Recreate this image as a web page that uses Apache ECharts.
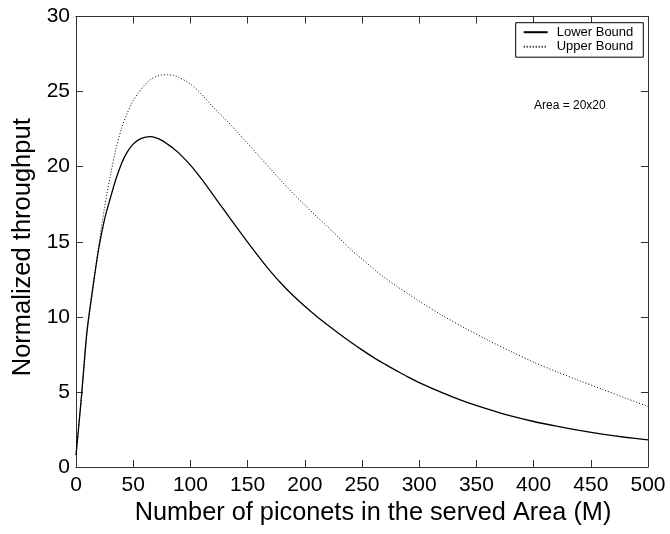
<!DOCTYPE html>
<html>
<head>
<meta charset="utf-8">
<script src="https://cdn.jsdelivr.net/npm/echarts@6/dist/echarts.min.js"></script>
<style>
    html, body {margin: 0; padding: 0; background: #fff;}
    #chart {width: 670px; height: 534px;}
</style>
</head>
<body>
<div id="chart"></div>
<script>
// x = number of piconets (M)
var aXVals = [0, 2, 5, 8, 10, 15, 20, 25, 30, 35, 40, 45, 50, 55, 60, 65, 70, 75, 80, 85, 90,
    100, 110, 120, 130, 140, 150, 160, 170, 180, 190, 200, 210, 220, 230, 240, 250, 260, 270, 280, 290,
    300, 320, 340, 360, 380, 400, 420, 440, 460, 480, 500];
var aLower = [0.8, 2.4, 4.9, 7.7, 9.3, 12.1, 14.6, 16.5, 17.9, 19.2, 20.25, 21.0, 21.5, 21.8, 21.95, 22.0, 21.92, 21.75, 21.5, 21.22, 20.9,
    20.1, 19.15, 18.1, 17.05, 16.0, 14.98, 13.98, 13.03, 12.17, 11.4, 10.7, 10.05, 9.45, 8.88, 8.33, 7.8, 7.3, 6.85, 6.42, 6.0,
    5.62, 4.95, 4.35, 3.85, 3.4, 3.03, 2.72, 2.44, 2.19, 1.98, 1.8];
var aUpper = [0.8, 2.4, 4.8, 7.6, 9.2, 12.0, 14.8, 17.3, 19.4, 21.2, 22.6, 23.6, 24.4, 24.95, 25.45, 25.8, 26.0, 26.1, 26.12, 26.08, 25.95,
    25.5, 24.8, 23.95, 23.2, 22.4, 21.55, 20.7, 19.85, 19.0, 18.2, 17.45, 16.7, 16.0, 15.25, 14.5, 13.85, 13.2, 12.6, 12.05, 11.55,
    11.05, 10.1, 9.25, 8.45, 7.7, 6.98, 6.35, 5.75, 5.18, 4.6, 4.03];
var aXTicks = [0, 50, 100, 150, 200, 250, 300, 350, 400, 450, 500];
var aYTicks = [0, 5, 10, 15, 20, 25, 30];

var sFont = "'Liberation Sans', Arial, sans-serif";

function ToPairs(aX, aY) {
    var aOut = [];
    for (var i = 0; i < aX.length; i++) {
        aOut.push([aX[i], aY[i]]);
    }
    return aOut
}

function BoxAxis(sPos, bLabels, aTicks) {
    return {
        type: 'value',
        position: sPos,
        min: aTicks[0],
        max: aTicks[aTicks.length - 1],
        interval: aTicks[1] - aTicks[0],
        axisLine: {show: true, onZero: false, lineStyle: {color: '#333', width: 1}},
        axisTick: {show: true, inside: true, length: 7, lineStyle: {color: '#333'}},
        axisLabel: {show: bLabels, color: '#000', fontSize: 21, fontFamily: sFont},
        splitLine: {show: false}
    }
}

var xBottom = BoxAxis('bottom', true, aXTicks);
xBottom.axisLabel.margin = 8;
xBottom.name = 'Number of piconets in the served Area (M)';
xBottom.nameLocation = 'middle';
xBottom.nameGap = 33;
xBottom.nameTextStyle = {color: '#000', fontSize: 25.3, fontFamily: sFont, padding: [0, 0, 0, 22]};

var yLeft = BoxAxis('left', true, aYTicks);
yLeft.axisLabel.margin = 6;
yLeft.name = 'Normalized throughput';
yLeft.nameLocation = 'middle';
yLeft.nameGap = 40;
yLeft.nameTextStyle = {color: '#000', fontSize: 25.5, fontFamily: sFont, padding: [0, 11, 0, 0]};

var xTop = BoxAxis('top', false, aXTicks);
var yRight = BoxAxis('right', false, aYTicks);

var jOption = {
    animation: false,
    backgroundColor: '#fff',
    grid: {left: 76, right: 22, top: 16.5, bottom: 67, containLabel: false},
    xAxis: [xBottom, xTop],
    yAxis: [yLeft, yRight],
    legend: {
        orient: 'vertical',
        left: 515.7,
        top: 22.7,
        padding: [3, 10, 4, 7],
        itemWidth: 24,
        itemHeight: 13,
        itemGap: 1.5,
        borderColor: '#000',
        borderWidth: 1,
        backgroundColor: '#fff',
        itemStyle: {opacity: 0},
        textStyle: {color: '#000', fontSize: 13, fontFamily: sFont, padding: [0, 0, 0, 4]},
        data: ['Lower Bound', 'Upper Bound']
    },
    graphic: [{
        type: 'text',
        left: 534,
        top: 100,
        style: {text: 'Area = 20x20', fill: '#000', font: '12px ' + sFont}
    }],
    series: [
        {
            name: 'Lower Bound',
            type: 'line',
            xAxisIndex: 0,
            yAxisIndex: 0,
            symbol: 'none',
            smooth: 0.3,
            lineStyle: {color: '#000', width: 1.3, type: 'solid'},
            itemStyle: {color: '#000'},
            data: ToPairs(aXVals, aLower)
        },
        {
            name: 'Upper Bound',
            type: 'line',
            xAxisIndex: 0,
            yAxisIndex: 0,
            symbol: 'none',
            smooth: 0.3,
            lineStyle: {color: '#000', width: 1, type: [1, 2]},
            itemStyle: {color: '#000'},
            data: ToPairs(aXVals, aUpper)
        }
    ]
};

var myChart = echarts.init(document.getElementById('chart'));
myChart.setOption(jOption);
</script>
</body>
</html>
